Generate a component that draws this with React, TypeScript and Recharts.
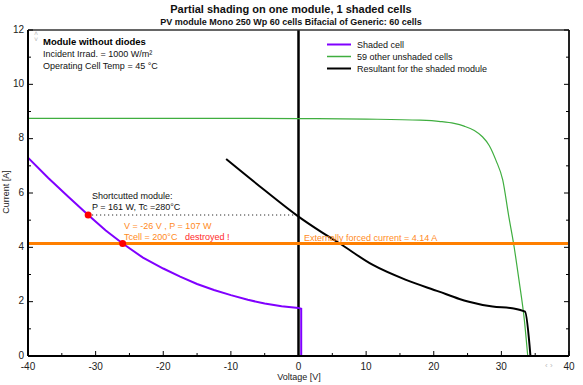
import React from "react";
import {
  ComposedChart,
  Line,
  XAxis,
  YAxis,
  ReferenceLine,
  ReferenceDot,
} from "recharts";

// ---- data ----
const shadedV = [-40, -37, -34, -31.1, -28.5, -26, -23, -20, -17.5, -15, -12.5, -10, -7.5, -5, -2.5, 0, 0.4, 0.4];
const shadedI = [7.3, 6.55, 5.85, 5.19, 4.62, 4.14, 3.62, 3.22, 2.92, 2.65, 2.43, 2.24, 2.07, 1.93, 1.83, 1.77, 1.74, 0];

const otherV = [-40, -20, 0, 10, 18, 21, 23, 24.5, 26, 27.2, 28.2, 29.2, 30.2, 31.1, 31.8, 32.6, 33.4, 33.9];
const otherI = [8.75, 8.75, 8.74, 8.72, 8.68, 8.63, 8.56, 8.46, 8.3, 8.07, 7.75, 7.2, 6.48, 5.13, 4.15, 2.8, 1.32, 0];

const resultV = [-10.7, -5, -0.1, 3.35, 6.05, 11, 15.9, 20.8, 23.8, 25.2, 28.7, 31.6, 33.5, 34.3];
const resultI = [7.25, 6.1, 5.15, 4.57, 4.15, 3.35, 2.8, 2.37, 2.1, 2.0, 1.82, 1.76, 1.63, 0];

const forcedCurrent = 4.14;
const shortPoint = { v: -31.1, i: 5.19 };
const forcedPoint = { v: -26, i: 4.14 };

const xTicks = [-40, -35, -30, -25, -20, -15, -10, -5, 0, 5, 10, 15, 20, 25, 30, 35, 40];
const yTicks = [0, 1, 2, 3, 4, 5, 6, 7, 8, 9, 10, 11, 12];

const seriesNames = ["Shaded cell", "59 other unshaded cells", "Resultant for the shaded module"];
const seriesColors = ["#8000ff", "#3fae3f", "#000000"];

const toRows = (vs: number[], is: number[]) => vs.map((v, k) => ({ v, i: is[k] }));
const shadedData = toRows(shadedV, shadedI);
const otherData = toRows(otherV, otherI);
const resultData = toRows(resultV, resultI);

const FONT = "'Liberation Sans', Arial, sans-serif";

const BottomTick = (props: any) => {
  const { x, y, payload } = props;
  const v = payload.value;
  const major = v % 10 === 0;
  return (
    <g>
      <line x1={x} x2={x} y1={y} y2={y - (major ? 5 : 3)} stroke="#000" strokeWidth={1} />
      {major && (
        <text x={x} y={y + 14} textAnchor="middle" fontSize={10} fontFamily={FONT} fill="#222">
          {v}
        </text>
      )}
    </g>
  );
};

const TopTick = (props: any) => {
  const { x, y, payload } = props;
  const major = payload.value % 10 === 0;
  return <line x1={x} x2={x} y1={y} y2={y + (major ? 5 : 3)} stroke="#000" strokeWidth={1} />;
};

const LeftTick = (props: any) => {
  const { x, y, payload } = props;
  const v = payload.value;
  const major = v % 2 === 0;
  return (
    <g>
      <line x1={x} x2={x + (major ? 5 : 3)} y1={y} y2={y} stroke="#000" strokeWidth={1} />
      {major && (
        <text x={x - 4} y={y + 2.5} textAnchor="end" fontSize={10} fontFamily={FONT} fill="#222">
          {v}
        </text>
      )}
    </g>
  );
};

const RightTick = (props: any) => {
  const { x, y, payload } = props;
  const major = payload.value % 2 === 0;
  return <line x1={x} x2={x - (major ? 5 : 3)} y1={y} y2={y} stroke="#000" strokeWidth={1} />;
};

export default function App() {
  return (
    <div style={{ position: "absolute", left: 0, top: 0, width: 583, height: 385, background: "#fff" }}>
      <ComposedChart
        width={583}
        height={385}
        margin={{ top: 0, right: 0, bottom: 0, left: 0 }}
      >
        <XAxis
          xAxisId="b"
          type="number"
          dataKey="v"
          domain={[-40, 40]}
          ticks={xTicks}
          interval={0}
          height={29}
          tickSize={0}
          tickMargin={0}
          tickLine={false}
          tick={<BottomTick />}
          axisLine={{ stroke: "#000", strokeWidth: 2 }}
          allowDataOverflow
        />
        <XAxis
          xAxisId="t"
          orientation="top"
          type="number"
          domain={[-40, 40]}
          ticks={xTicks}
          interval={0}
          height={30}
          tickSize={0}
          tickMargin={0}
          tickLine={false}
          tick={<TopTick />}
          axisLine={{ stroke: "#333", strokeWidth: 1.5 }}
          allowDataOverflow
        />
        <YAxis
          yAxisId="l"
          type="number"
          dataKey="i"
          domain={[0, 12]}
          ticks={yTicks}
          interval={0}
          width={28}
          tickSize={0}
          tickMargin={0}
          tickLine={false}
          tick={<LeftTick />}
          axisLine={{ stroke: "#000", strokeWidth: 2 }}
          allowDataOverflow
        />
        <YAxis
          yAxisId="r"
          orientation="right"
          type="number"
          domain={[0, 12]}
          ticks={yTicks}
          interval={0}
          width={14}
          tickSize={0}
          tickMargin={0}
          tickLine={false}
          tick={<RightTick />}
          axisLine={{ stroke: "#222", strokeWidth: 2 }}
          allowDataOverflow
        />
        <ReferenceLine xAxisId="b" yAxisId="l" x={0} stroke="#000" strokeWidth={2.5} />
        <ReferenceLine
          xAxisId="b"
          yAxisId="l"
          segment={[
            { x: shortPoint.v, y: shortPoint.i },
            { x: 0, y: shortPoint.i },
          ]}
          stroke="#000"
          strokeWidth={1}
          strokeDasharray="1 3"
        />
        <Line
          xAxisId="b"
          yAxisId="l"
          data={otherData}
          dataKey="i"
          type="monotoneX"
          stroke={seriesColors[1]}
          strokeWidth={1.2}
          dot={false}
          isAnimationActive={false}
        />
        <Line
          xAxisId="b"
          yAxisId="l"
          data={resultData}
          dataKey="i"
          type="monotoneX"
          stroke={seriesColors[2]}
          strokeWidth={2}
          dot={false}
          isAnimationActive={false}
        />
        <Line
          xAxisId="b"
          yAxisId="l"
          data={shadedData}
          dataKey="i"
          type="linear"
          stroke={seriesColors[0]}
          strokeWidth={2}
          dot={false}
          isAnimationActive={false}
        />
        <ReferenceLine xAxisId="b" yAxisId="l" y={forcedCurrent} stroke="#ff7f00" strokeWidth={3} />
        <ReferenceDot xAxisId="b" yAxisId="l" x={shortPoint.v} y={shortPoint.i} r={3.5} fill="#ff0000" stroke="none" />
        <ReferenceDot xAxisId="b" yAxisId="l" x={forcedPoint.v} y={forcedPoint.i} r={3.5} fill="#ff0000" stroke="none" />
      </ComposedChart>
      <svg
        width={583}
        height={385}
        style={{ position: "absolute", left: 0, top: 0, pointerEvents: "none" }}
        fontFamily={FONT}
      >
        <text x={291} y={13} textAnchor="middle" fontSize={11} fontWeight="bold" fill="#111">
          Partial shading on one module, 1 shaded cells
        </text>
        <text x={291} y={25} textAnchor="middle" fontSize={9} fontWeight="bold" fill="#111">
          PV module Mono 250 Wp  60 cells Bifacial of Generic: 60 cells
        </text>
        <text x={299} y={380} textAnchor="middle" fontSize={9} fill="#222">
          Voltage [V]
        </text>
        <text x={9} y={192} textAnchor="middle" fontSize={9} fill="#222" transform="rotate(-90 9 192)">
          Current [A]
        </text>

        <text x={43} y={44.5} fontSize={9.5} fontWeight="bold" fill="#000">
          Module without diodes
        </text>
        <text x={43} y={57} fontSize={9} fill="#111">
          Incident Irrad. = 1000 W/m²
        </text>
        <text x={43} y={68.5} fontSize={9} fill="#111">
          Operating Cell Temp = 45 °C
        </text>

        {seriesNames.map((n, k) => (
          <g key={n}>
            <line x1={327} x2={351} y1={44.5 + k * 12} y2={44.5 + k * 12} stroke={seriesColors[k]} strokeWidth={k === 1 ? 1.5 : 2} />
            <text x={357} y={47.5 + k * 12} fontSize={9} fill="#111">
              {n}
            </text>
          </g>
        ))}

        <text x={92} y={198.5} fontSize={9} fill="#111">
          Shortcutted module:
        </text>
        <text x={92} y={209.5} fontSize={9} fill="#111">
          P = 161 W, Tc =280°C
        </text>
        <text x={124} y={228.5} fontSize={9} fill="#ff8a1c">
          V = -26 V , P = 107 W
        </text>
        <text x={124} y={239.5} fontSize={9} fill="#ff8a1c">
          Tcell = 200°C
        </text>
        <text x={185} y={239.5} fontSize={9} fill="#ff2a2a">
          destroyed !
        </text>
        <text x={304} y={240.5} fontSize={9} fill="#ff8a1c">
          Externally forced current = 4.14 A
        </text>

        <text x={34} y={36} fontSize={7} fill="#bbb">˄</text>
        <text x={34} y={42} fontSize={7} fill="#bbb">˅</text>
        <text x={545} y={368} fontSize={8} fill="#bbb">‹ ›</text>
      </svg>
    </div>
  );
}
